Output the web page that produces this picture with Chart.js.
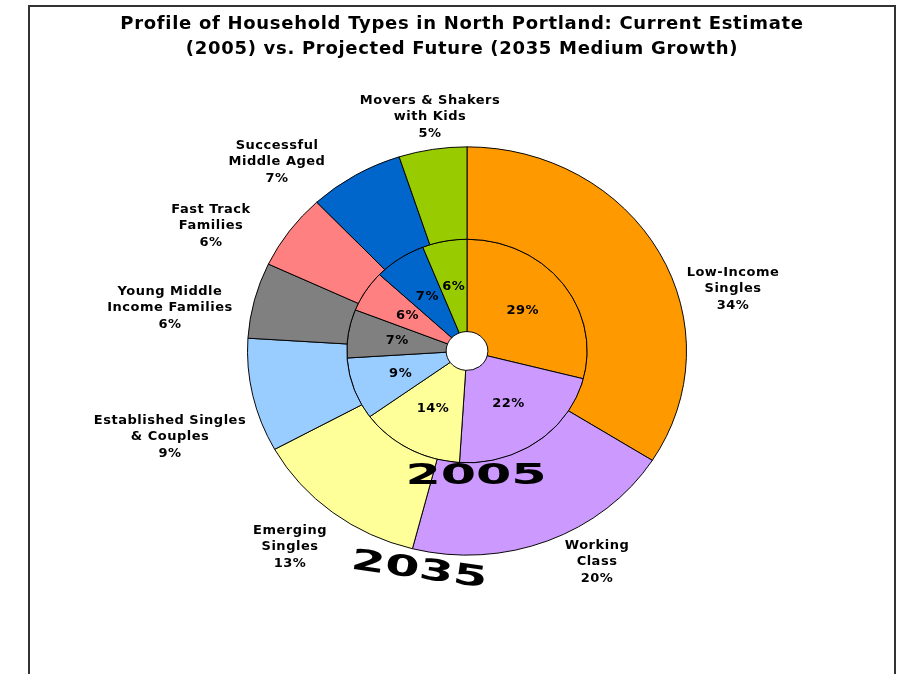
<!DOCTYPE html>
<html>
<head>
<meta charset="utf-8">
<script src="https://cdn.jsdelivr.net/npm/chart.js@4.4.1/dist/chart.umd.min.js"></script>
<style>
  html, body { margin: 0; padding: 0; background: #fff; }
  #wrap { position: relative; width: 906px; height: 674px; }
</style>
</head>
<body>
<div id="wrap"><canvas id="householdChart" width="906" height="674"></canvas></div>
<script>
// Household types, clockwise from 12 o'clock
const categories = ['Low-Income Singles', 'Working Class', 'Emerging Singles', 'Established Singles & Couples',
    'Young Middle Income Families', 'Fast Track Families', 'Successful Middle Aged', 'Movers & Shakers with Kids'];
const labelLines = [['Low-Income', 'Singles'], ['Working', 'Class'], ['Emerging', 'Singles'], ['Established Singles', '& Couples'],
    ['Young Middle', 'Income Families'], ['Fast Track', 'Families'], ['Successful', 'Middle Aged'], ['Movers & Shakers', 'with Kids']];
const values2035 = [34, 20, 13, 9, 6, 6, 7, 5];   // outer ring
const values2005 = [29, 22, 14, 9, 7, 6, 7, 6];   // inner ring
const sliceColors = ['#FF9900', '#CC99FF', '#FFFF99', '#99CCFF', '#808080', '#FF8080', '#0066CC', '#99CC00'];
const titleLines = ['Profile of Household Types in North Portland: Current Estimate', '(2005) vs. Projected Future (2035 Medium Growth)'];

// Layout (pixels) - outer label block centres, picked by eye
const labelCenters = [[733, 289], [597, 562], [290, 547], [170, 437], [170, 308], [211, 226], [277, 162], [430, 117]];
const SQUASH_Y = 0.93; // the original pie is a little flattened

const ellipsePlugin = {
    id: 'ellipse',
    beforeDraw(chart) {
        const ctx = chart.ctx;
        ctx.save();
        // outer frame (no bottom edge)
        ctx.strokeStyle = '#333';
        ctx.lineWidth = 2;
        ctx.beginPath();
        ctx.moveTo(29, 680);
        ctx.lineTo(29, 6);
        ctx.lineTo(895, 6);
        ctx.lineTo(895, 680);
        ctx.stroke();
        // title
        ctx.fillStyle = '#000';
        ctx.font = 'bold 18px "DejaVu Sans"';
        ctx.letterSpacing = '0.7px';
        ctx.textAlign = 'center';
        ctx.textBaseline = 'middle';
        titleLines.forEach((t, i) => ctx.fillText(t, 462, 24 + i * 25));
        ctx.restore();
    },
    beforeDatasetsDraw(chart) {
        const ca = chart.chartArea;
        const cx = (ca.left + ca.right) / 2, cy = (ca.top + ca.bottom) / 2;
        const ctx = chart.ctx;
        ctx.save();
        ctx.translate(cx, cy);
        ctx.scale(1, SQUASH_Y);
        ctx.translate(-cx, -cy);
    },
    afterDatasetsDraw(chart) {
        chart.ctx.restore();
    },
    afterDraw(chart) {
        const ctx = chart.ctx;
        const ca = chart.chartArea;
        const cy = (ca.top + ca.bottom) / 2;
        ctx.save();
        ctx.fillStyle = '#000';
        ctx.textAlign = 'center';
        ctx.textBaseline = 'middle';
        ctx.font = 'bold 13px "DejaVu Sans"';
        ctx.letterSpacing = '0.5px';

        // inner ring percentages at each arc's centre
        chart.getDatasetMeta(1).data.forEach((arc, i) => {
            const p = arc.getCenterPoint();
            ctx.fillText(values2005[i] + '%', p.x, cy + (p.y - cy) * SQUASH_Y);
        });

        // outer ring labels: name + percentage
        labelCenters.forEach((c, i) => {
            const lines = labelLines[i].concat([values2035[i] + '%']);
            const top = c[1] - (lines.length - 1) * 16.5 / 2;
            lines.forEach((l, j) => ctx.fillText(l, c[0], top + j * 16.5));
        });

        // year tags
        ctx.letterSpacing = '0px';
        ctx.font = 'bold 29px "DejaVu Sans"';
        ctx.textBaseline = 'alphabetic';
        ctx.save();
        ctx.translate(476, 484);
        ctx.scale(1.75, 1);
        ctx.fillText('2005', 0, 0);
        ctx.restore();
        ctx.save();
        ctx.translate(418, 578);
        ctx.rotate(8 * Math.PI / 180);
        ctx.scale(1.7, 1);
        ctx.fillText('2035', 0, 0);
        ctx.restore();
        ctx.restore();
    }
};

new Chart(document.getElementById('householdChart'), {
    type: 'doughnut',
    data: {
        labels: categories,
        datasets: [
            { label: '2035', data: values2035, backgroundColor: sliceColors, borderColor: '#000', borderWidth: 1, hoverOffset: 0 },
            { label: '2005', data: values2005, backgroundColor: sliceColors, borderColor: '#000', borderWidth: 1, hoverOffset: 0 }
        ]
    },
    options: {
        responsive: false,
        animation: false,
        events: [],
        cutout: '9.5%',
        layout: { padding: { left: 247, right: 219, top: 131, bottom: 103 } },
        plugins: {
            legend: { display: false },
            title: { display: false },
            tooltip: { enabled: false }
        }
    },
    plugins: [ellipsePlugin]
});
</script>
</body>
</html>
